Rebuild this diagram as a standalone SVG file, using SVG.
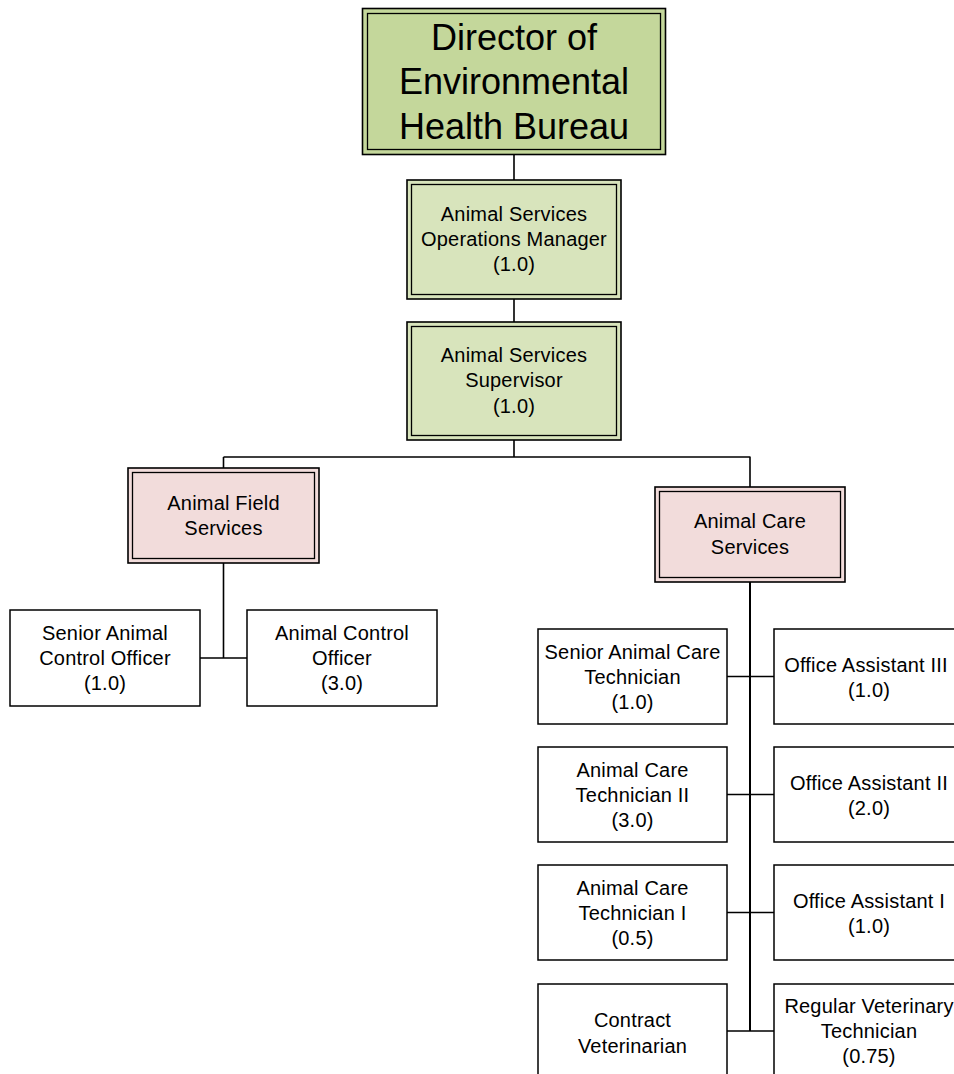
<svg xmlns="http://www.w3.org/2000/svg" width="954" height="1074" viewBox="0 0 954 1074">
<style>
.t{font-family:"Liberation Sans",Arial,sans-serif;font-size:20px;fill:#000;text-anchor:middle;letter-spacing:0.2px}
.big{font-size:36px;letter-spacing:0}
.o{stroke:#000;stroke-width:1.6}
.i{fill:none;stroke:#000;stroke-width:1.3}
.g1{fill:#c4d79b}
.g2{fill:#d8e4bc}
.p{fill:#f2dcdb}
.w{fill:#fff;stroke:#000;stroke-width:1.5}
.c{fill:none;stroke:#000;stroke-width:1.6}
</style>
<rect width="954" height="1074" fill="#fff"/>
<g id="connectors">
<path class="c" d="M514 154.5V180M514 299V322M514 440V457M223.5 457H750.5M223.5 457V468M750 457V487"/>
<path class="c" d="M223.5 563V658M200 658H247"/>
<path class="c" d="M750 582V1031" style="stroke-width:2"/>
<path class="c" d="M727 676.5H774M727 794.5H774M727 912.5H774M727 1031H774"/>
</g>
<g id="director">
<rect class="o g1" x="362.5" y="8.5" width="303" height="146"/>
<rect class="i" x="367.5" y="13.5" width="293" height="136"/>
<text class="t big" x="514" y="49.5">Director of</text>
<text class="t big" x="514" y="94">Environmental</text>
<text class="t big" x="514" y="138.5">Health Bureau</text>
</g>
<g id="opsmanager">
<rect class="o g2" x="407" y="180" width="214" height="119"/>
<rect class="i" x="411.5" y="184.5" width="205" height="110"/>
<text class="t" x="514" y="221">Animal Services</text>
<text class="t" x="514" y="246">Operations Manager</text>
<text class="t" x="514" y="271">(1.0)</text>
</g>
<g id="supervisor">
<rect class="o g2" x="407" y="322" width="214" height="118"/>
<rect class="i" x="411.5" y="326.5" width="205" height="109"/>
<text class="t" x="514" y="362">Animal Services</text>
<text class="t" x="514" y="387">Supervisor</text>
<text class="t" x="514" y="413">(1.0)</text>
</g>
<g id="fieldservices">
<rect class="o p" x="128" y="468" width="191" height="95"/>
<rect class="i" x="132.5" y="472.5" width="182" height="86"/>
<text class="t" x="223.5" y="510">Animal Field</text>
<text class="t" x="223.5" y="535">Services</text>
</g>
<g id="careservices">
<rect class="o p" x="655" y="487" width="190" height="95"/>
<rect class="i" x="659.5" y="491.5" width="181" height="86"/>
<text class="t" x="750" y="528">Animal Care</text>
<text class="t" x="750" y="554">Services</text>
</g>
<g id="seniorcontrol">
<rect class="w" x="10" y="610" width="190" height="96"/>
<text class="t" x="105" y="640">Senior Animal</text>
<text class="t" x="105" y="665">Control Officer</text>
<text class="t" x="105" y="690">(1.0)</text>
</g>
<g id="controlofficer">
<rect class="w" x="247" y="610" width="190" height="96"/>
<text class="t" x="342" y="640">Animal Control</text>
<text class="t" x="342" y="665">Officer</text>
<text class="t" x="342" y="690">(3.0)</text>
</g>
<g id="seniorcaretech">
<rect class="w" x="538" y="629" width="189" height="95"/>
<text class="t" x="632.5" y="659">Senior Animal Care</text>
<text class="t" x="632.5" y="684">Technician</text>
<text class="t" x="632.5" y="709">(1.0)</text>
</g>
<g id="officeassistant3">
<rect class="w" x="774" y="629" width="190" height="95"/>
<text class="t" x="866" y="672">Office Assistant III</text>
<text class="t" x="869" y="697">(1.0)</text>
</g>
<g id="caretech2">
<rect class="w" x="538" y="747" width="189" height="95"/>
<text class="t" x="632.5" y="777">Animal Care</text>
<text class="t" x="632.5" y="802">Technician II</text>
<text class="t" x="632.5" y="827">(3.0)</text>
</g>
<g id="officeassistant2">
<rect class="w" x="774" y="747" width="190" height="95"/>
<text class="t" x="869" y="790">Office Assistant II</text>
<text class="t" x="869" y="815">(2.0)</text>
</g>
<g id="caretech1">
<rect class="w" x="538" y="865" width="189" height="95"/>
<text class="t" x="632.5" y="895">Animal Care</text>
<text class="t" x="632.5" y="920">Technician I</text>
<text class="t" x="632.5" y="945">(0.5)</text>
</g>
<g id="officeassistant1">
<rect class="w" x="774" y="865" width="190" height="95"/>
<text class="t" x="869" y="908">Office Assistant I</text>
<text class="t" x="869" y="933">(1.0)</text>
</g>
<g id="contractvet">
<rect class="w" x="538" y="984" width="189" height="96"/>
<text class="t" x="632.5" y="1027">Contract</text>
<text class="t" x="632.5" y="1053">Veterinarian</text>
</g>
<g id="vettech">
<rect class="w" x="774" y="984" width="190" height="96"/>
<text class="t" x="869" y="1013">Regular Veterinary</text>
<text class="t" x="869" y="1038">Technician</text>
<text class="t" x="869" y="1063">(0.75)</text>
</g>
</svg>
